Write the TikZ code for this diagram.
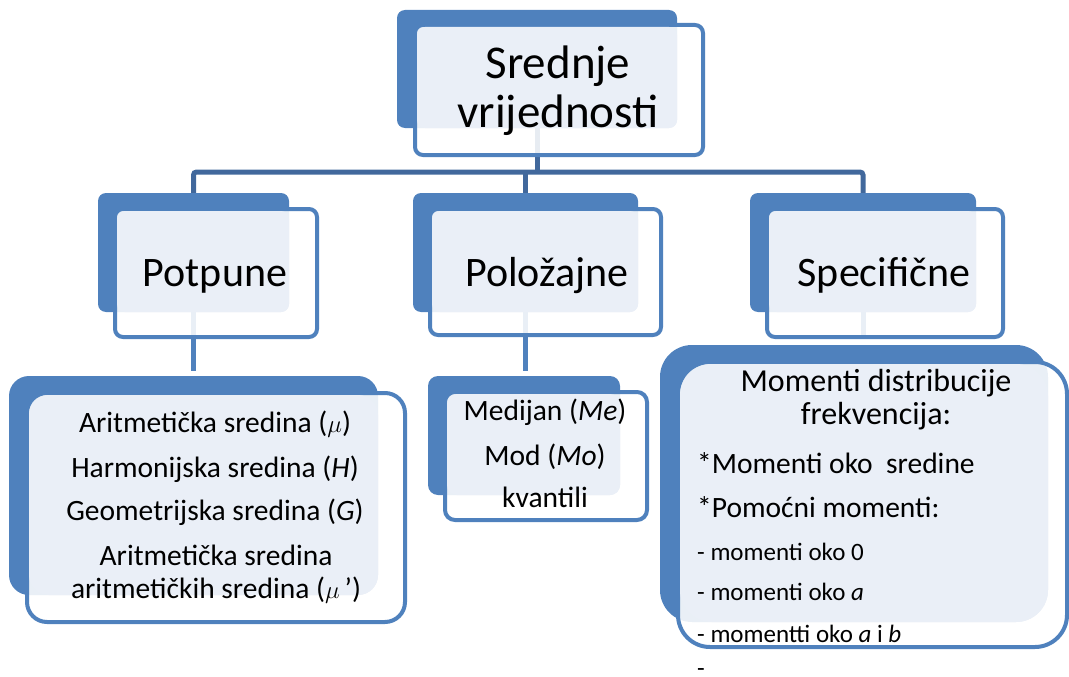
\documentclass[tikz,border=0pt]{standalone}
\usepackage{fontspec}
\setmainfont{Carlito}
\usetikzlibrary{backgrounds}
\definecolor{boxblue}{HTML}{4F81BD}
\definecolor{linkblue}{HTML}{41689C}
\definecolor{lightfill}{HTML}{EAEFF7}
\def\rad{8pt}
\tikzset{
  backbox/.style={rectangle, fill=boxblue, draw=none, rounded corners=\rad, inner sep=0pt, outer sep=0pt, anchor=north west},
  frontbox/.style={rectangle, fill=white, fill opacity=0.88, draw=boxblue, draw opacity=1, line width=4pt, rounded corners=\rad, inner sep=0pt, outer sep=0pt, anchor=north west},
  linkline/.style={draw=linkblue, line width=5pt},
  lowline/.style={draw=boxblue, line width=5pt},
  title/.style={anchor=base, inner sep=0pt, font=\fontsize{47}{50}\selectfont},
  big/.style={anchor=base, inner sep=0pt, font=\fontsize{42}{50}\selectfont},
  mid/.style={anchor=base, inner sep=0pt, font=\fontsize{29.5}{33}\selectfont},
  head/.style={anchor=base, inner sep=0pt, font=\fontsize{32}{36}\selectfont},
  midl/.style={anchor=base west, inner sep=0pt, font=\fontsize{29.5}{33}\selectfont},
  small/.style={anchor=base west, inner sep=0pt, font=\fontsize{25}{28}\selectfont},
}
\newcommand\duobox[9]{%
  \node[backbox, minimum width={#4-#2}, minimum height={#5-#3}] (#1b) at (#2,#3) {};
  \node[frontbox, minimum width={#8-#6}, minimum height={#9-#7}] (#1f) at (#6,#7) {};
  \fill[lightfill, rounded corners=\rad] ([shift={(2pt,-2pt)}]#1f.north west) rectangle (#1b.south east);
}
\begin{document}
\begin{tikzpicture}[x=1pt, y=-1pt]
\useasboundingbox (0,0) rectangle (1069,677);
% top
\def\rad{8pt}
\duobox{t}{397}{10}{677}{128}{415}{25}{703}{155}
% level 2
\duobox{p}{98}{193}{289}{312}{115}{209}{317}{337}
\duobox{q}{413}{193}{638}{312}{430}{209}{661}{335}
\duobox{s}{750}{193}{976}{312}{767}{209}{1003}{337}
% level 3
\def\rad{20pt}
\duobox{l}{9}{376}{378}{595}{27}{393}{405}{622}
\def\rad{10pt}
\duobox{m}{428}{376}{620}{495}{445}{392}{647}{520}
\def\rad{32pt}
\duobox{r}{660}{345}{1048}{622}{678}{362}{1067}{647}

% texts
\node[title] (t1) at (558,78) {Srednje};
\node[title] (t2) at (558,128) {vrijednosti};
\node[big] (pt) at (215,286) {Potpune};
\node[big] (qt) at (547,286) {Položajne};
\node[big] (st) at (884,286) {Specifične};

\node[mid] (l1) at (215,432) {Aritmetička sredina ($\mu$)};
\node[mid] (l2) at (215,477) {Harmonijska sredina (\textit{H})};
\node[mid] (l3) at (215,520) {Geometrijska sredina (\textit{G})};
\node[mid] (l4) at (216,565) {Aritmetička sredina};
\node[mid] (l5) at (216,598) {aritmetičkih sredina ($\mu$\,’)};

\node[mid] (m1) at (545,420) {Medijan (\textit{Me})};
\node[mid] (m2) at (545,465) {Mod (\textit{Mo})};
\node[mid] (m3) at (545,507) {kvantili};

\node[head] (r1) at (876,391) {Momenti distribucije};
\node[head] (r2) at (876,424) {frekvencija:};
\node[midl] (r3) at (697,473) {*Momenti oko\ \ sredine};
\node[midl] (r4) at (697,517) {*Pomoćni momenti:};
\node[small] (r5) at (697,560) {- momenti oko 0};
\node[small] (r6) at (697,600) {- momenti oko \textit{a}};
\node[small] (r7) at (697,642) {- momentti oko \textit{a} i \textit{b}};
\node[small] (r8) at (697,676.5) {-};

% connectors
\begin{pgfonlayer}{background}
\coordinate (hy) at (0,172);
\draw[linkline] (tb.south) -- (tb.south |- hy);
\draw[linkline, rounded corners=3pt] (pb.north) |- (hy -| sb.north) -- (sb.north);
\draw[linkline] (qb.north) -- (qb.north |- hy);
\draw[lowline] (pb.south) -- ([yshift=5pt]lb.north -| pb.south);
\draw[lowline] (qb.south) -- ([yshift=5pt]mb.north -| qb.south);
\draw[lowline] (sb.south) -- (sf.south -| sb.south);
\end{pgfonlayer}
\end{tikzpicture}
\end{document}
